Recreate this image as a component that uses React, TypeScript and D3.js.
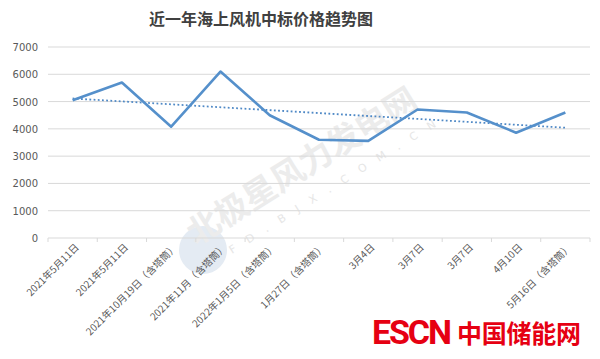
import { useEffect, useRef } from "react";
import * as d3 from "d3";

const categories = [
  "2021年5月11日",
  "2021年5月11日",
  "2021年10月19日（含塔筒）",
  "2021年11月（含塔筒）",
  "2022年1月5日（含塔筒）",
  "1月27日（含塔筒）",
  "3月4日",
  "3月7日",
  "3月7日",
  "4月10日",
  "5月16日（含塔筒）",
];
const prices = [5050, 5700, 4080, 6100, 4500, 3600, 3560, 4710, 4600, 3860, 4600];
const yTicks = [0, 1000, 2000, 3000, 4000, 5000, 6000, 7000];

const W = 600,
  H = 359;
const margin = { top: 47, right: 10, bottom: 121, left: 48 };

function App() {
  const svgRef = useRef(null);

  useEffect(() => {
    const svg = d3.select(svgRef.current);
    svg.selectAll("*").remove();

    const x = d3
      .scaleBand()
      .domain(categories.map((_, i) => String(i)))
      .range([margin.left, W - margin.right]);
    const y = d3.scaleLinear().domain([0, 7000]).range([H - margin.bottom, margin.top]);
    const cx = (i: number) => (x(String(i)) as number) + x.bandwidth() / 2;

    svg
      .append("text")
      .attr("x", 261)
      .attr("y", 25)
      .attr("text-anchor", "middle")
      .attr("font-family", "Noto Sans CJK SC")
      .attr("font-weight", "bold")
      .attr("font-size", 16)
      .attr("fill", "#404040")
      .text("近一年海上风机中标价格趋势图");

    // watermark, kept faint
    const wm = svg.append("g");
    wm.append("circle").attr("cx", 203).attr("cy", 250).attr("r", 24).attr("fill", "#e4ebf3");
    wm.append("text")
      .attr("transform", "translate(196,246) rotate(-32)")
      .attr("font-family", "Noto Sans CJK SC")
      .attr("font-weight", "bold")
      .attr("font-size", 33)
      .attr("fill", "#ececec")
      .text("北极星风力发电网");
    wm.append("text")
      .attr("transform", "translate(232,254) rotate(-32)")
      .attr("font-family", "DejaVu Sans")
      .attr("font-size", 11)
      .attr("letter-spacing", 13)
      .attr("fill", "#e6e6e6")
      .text("FD.BJX.COM.CN");

    // grid
    svg
      .append("g")
      .selectAll("line")
      .data(yTicks)
      .enter()
      .append("line")
      .attr("x1", margin.left)
      .attr("x2", W - margin.right)
      .attr("y1", (d) => y(d))
      .attr("y2", (d) => y(d))
      .attr("stroke", "#d9d9d9")
      .attr("stroke-width", 1);

    svg
      .append("g")
      .selectAll("text")
      .data(yTicks)
      .enter()
      .append("text")
      .attr("x", 38)
      .attr("y", (d) => y(d) + 4)
      .attr("text-anchor", "end")
      .attr("font-family", "DejaVu Sans")
      .attr("font-size", 10)
      .attr("fill", "#595959")
      .text((d) => d);

    // x ticks
    const bounds = d3.range(categories.length + 1).map((i) => margin.left + i * x.bandwidth());
    svg
      .append("g")
      .selectAll("line")
      .data(bounds)
      .enter()
      .append("line")
      .attr("x1", (d) => d)
      .attr("x2", (d) => d)
      .attr("y1", y(0))
      .attr("y2", y(0) + 4)
      .attr("stroke", "#d9d9d9");

    svg
      .append("g")
      .selectAll("text")
      .data(categories)
      .enter()
      .append("text")
      .attr("transform", (_, i) => `translate(${cx(i) + 7},${y(0) + 10}) rotate(-45)`)
      .attr("text-anchor", "end")
      .attr("font-family", "Noto Sans CJK SC")
      .attr("font-size", 10)
      .attr("fill", "#595959")
      .text((d) => d);

    // trend line (least squares)
    const n = prices.length;
    const xm = d3.mean(d3.range(n)) as number;
    const ym = d3.mean(prices) as number;
    const slope =
      d3.sum(prices, (v, i) => (i - xm) * (v - ym)) / d3.sum(d3.range(n), (i) => (i - xm) ** 2);
    const b = ym - slope * xm;
    svg
      .append("line")
      .attr("x1", cx(0))
      .attr("x2", cx(n - 1))
      .attr("y1", y(b))
      .attr("y2", y(b + slope * (n - 1)))
      .attr("stroke", "#4f89c6")
      .attr("stroke-width", 1.8)
      .attr("stroke-dasharray", "1.8,2.4");

    const line = d3
      .line<number>()
      .x((_, i) => cx(i))
      .y((d) => y(d));
    svg
      .append("path")
      .datum(prices)
      .attr("d", line)
      .attr("fill", "none")
      .attr("stroke", "#5590cb")
      .attr("stroke-width", 2.6)
      .attr("stroke-linejoin", "round");

    // logo
    svg.append("rect").attr("x", 368).attr("y", 314).attr("width", 216).attr("height", 34).attr("fill", "#fff");
    svg
      .append("text")
      .attr("x", 372)
      .attr("y", 344)
      .attr("font-family", "Roboto")
      .attr("font-weight", "bold")
      .attr("font-size", 34)
      .attr("fill", "#e60012")
      .attr("textLength", 80)
      .text("ESCN");
    svg
      .append("text")
      .attr("x", 457)
      .attr("y", 343)
      .attr("font-family", "Noto Sans CJK SC")
      .attr("font-weight", "bold")
      .attr("font-size", 25)
      .attr("fill", "#e60012")
      .attr("textLength", 124)
      .text("中国储能网");
  }, []);

  return (
    <svg
      ref={svgRef}
      width={W}
      height={H}
      style={{ position: "absolute", left: 0, top: 0, background: "#fff" }}
    ></svg>
  );
}

export default App;
